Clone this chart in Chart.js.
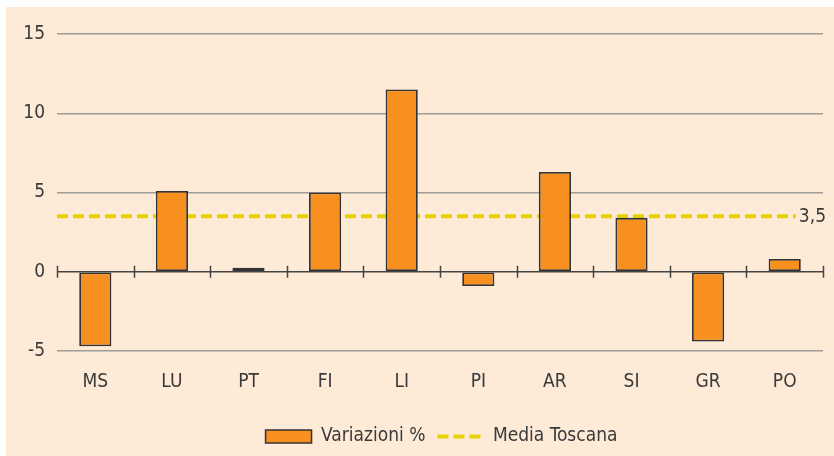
<!DOCTYPE html>
<html>
<head>
<meta charset="utf-8">
<script src="https://cdn.jsdelivr.net/npm/chart.js@4/dist/chart.umd.min.js"></script>
<style>
  html, body { margin: 0; padding: 0; background: #ffffff; width: 834px; height: 456px; overflow: hidden; }
  #wrap { position: absolute; left: 6px; top: 7px; width: 828px; height: 449px; background: #FDEAD7; }
  canvas { display: block; }
</style>
</head>
<body>
<div id="wrap"><canvas id="c" width="828" height="449"></canvas></div>
<script>
const categories = ['MS', 'LU', 'PT', 'FI', 'LI', 'PI', 'AR', 'SI', 'GR', 'PO'];
const variazioni = [-4.7, 5.1, 0.25, 5.0, 11.5, -0.9, 6.3, 3.4, -4.4, 0.8];
const mediaToscana = 3.5;
const mediaSeries = categories.map(() => mediaToscana);
const yTicks = [-5, 0, 5, 10, 15];

const FONT = "'Liberation Sans Narrow', 'DejaVu Sans Condensed', 'Liberation Sans', sans-serif";
const TEXT = '#3a3a3a';
const ORANGE = '#F7901E';
const YELLOW = '#E6D200';
const DASH = [11, 5];

const decor = {
  id: 'decor',
  afterLayout(chart) {
    if (chart.legend) { chart.legend.left += 27; chart.legend.right += 27; }
  },
  beforeDatasetsDraw(chart) {
    const { ctx, chartArea } = chart;
    const y = chart.scales.y, x = chart.scales.x;
    const yy = y.getPixelForValue(mediaToscana);
    ctx.save();
    ctx.font = '19px ' + FONT;
    const label = String(mediaToscana).replace('.', ',');
    const tw = ctx.measureText(label).width;
    const tx = chartArea.right + 3;
    ctx.strokeStyle = YELLOW;
    ctx.lineWidth = 4;
    ctx.setLineDash(DASH);
    ctx.beginPath();
    ctx.moveTo(chartArea.left, yy);
    ctx.lineTo(tx - tw - 3, yy);
    ctx.stroke();
    ctx.setLineDash([]);
    const y0 = y.getPixelForValue(0);
    ctx.strokeStyle = '#444';
    ctx.lineWidth = 1.5;
    ctx.beginPath();
    ctx.moveTo(chartArea.left, y0);
    ctx.lineTo(chartArea.right, y0);
    const n = categories.length;
    const step = x.getPixelForValue(1) - x.getPixelForValue(0);
    for (let i = 0; i <= n; i++) {
      let px = x.getPixelForValue(0) + (i - 0.5) * step;
      px = Math.round(px) + 0.5;
      ctx.moveTo(px, y0 - 6);
      ctx.lineTo(px, y0 + 6);
    }
    ctx.stroke();
    ctx.restore();
  },
  afterDatasetsDraw(chart) {
    const { ctx, chartArea } = chart;
    const yy = chart.scales.y.getPixelForValue(mediaToscana);
    ctx.save();
    ctx.font = '19px ' + FONT;
    ctx.fillStyle = TEXT;
    ctx.textAlign = 'right';
    ctx.textBaseline = 'middle';
    ctx.fillText(String(mediaToscana).replace('.', ','), chartArea.right + 3, yy + 1);
    ctx.restore();
  }
};

new Chart(document.getElementById('c'), {
  data: {
    labels: categories,
    datasets: [
      {
        type: 'bar',
        label: 'Variazioni %',
        data: variazioni,
        backgroundColor: ORANGE,
        borderColor: '#333',
        borderWidth: 1.8,
        borderSkipped: false,
        barPercentage: 0.42,
        categoryPercentage: 1,
        pointStyle: 'rect',
        order: 1
      },
      {
        type: 'line',
        label: 'Media Toscana',
        data: mediaSeries,
        borderColor: YELLOW,
        backgroundColor: YELLOW,
        borderWidth: 4,
        borderDash: DASH,
        showLine: false,
        pointRadius: 0,
        pointHoverRadius: 0,
        pointStyle: 'line',
        order: 2
      }
    ]
  },
  options: {
    responsive: false,
    animation: false,
    events: [],
    layout: { padding: { top: 27, right: 11, left: 0, bottom: 0 } },
    scales: {
      x: {
        type: 'category',
        grid: { display: false },
        border: { display: false },
        ticks: { color: TEXT, font: { family: FONT, size: 19 }, padding: 12, maxRotation: 0 },
        afterFit(s) { s.height = 64; }
      },
      y: {
        type: 'linear',
        min: yTicks[0],
        max: yTicks[yTicks.length - 1],
        afterBuildTicks(s) { s.ticks = yTicks.map(v => ({ value: v })); },
        grid: {
          color: c => (c.tick && c.tick.value === 0) ? 'rgba(0,0,0,0)' : '#A19C99',
          lineWidth: 1.5,
          drawTicks: false
        },
        border: { display: false },
        ticks: { color: TEXT, font: { family: FONT, size: 19 }, padding: 12 },
        afterFit(s) { s.width = 51; }
      }
    },
    plugins: {
      legend: {
        position: 'bottom',
        labels: {
          usePointStyle: true,
          pointStyleWidth: 46,
          boxHeight: 13,
          color: TEXT,
          font: { family: FONT, size: 19 },
          padding: 12,
          generateLabels(chart) {
            const items = Chart.defaults.plugins.legend.labels.generateLabels(chart);
            items.forEach(it => {
              const ds = chart.data.datasets[it.datasetIndex];
              if (ds.type === 'line') {
                it.lineDash = ds.borderDash;
                it.strokeStyle = ds.borderColor;
                it.lineWidth = ds.borderWidth;
              } else {
                it.lineWidth = 1.5;
                it.strokeStyle = '#333';
              }
            });
            return items;
          }
        }
      },
      tooltip: { enabled: false }
    }
  },
  plugins: [decor]
});
</script>
</body>
</html>
